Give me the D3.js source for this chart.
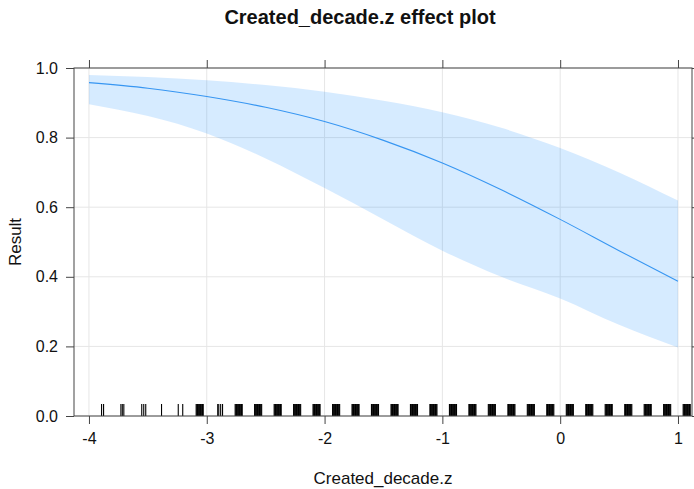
<!DOCTYPE html>
<html>
<head>
<meta charset="utf-8">
<script src="https://cdn.jsdelivr.net/npm/d3@7"></script>
<style>
  body { margin: 0; background: #fff; }
  text { font-family: "Liberation Sans", Arial, sans-serif; fill: #111; }
</style>
</head>
<body>
<script>
// fitted effect (probability) and 95% band
const fitX     = [-4, -3.5, -3, -2.5, -2, -1.5, -1, -0.5, 0, 0.5, 1];
const fitY     = [0.958, 0.942, 0.918, 0.887, 0.846, 0.792, 0.727, 0.650, 0.565, 0.475, 0.387];
const bandUp   = [0.980, 0.974, 0.965, 0.951, 0.932, 0.906, 0.873, 0.828, 0.770, 0.700, 0.619];
const bandLow  = [0.896, 0.862, 0.812, 0.740, 0.655, 0.565, 0.475, 0.400, 0.338, 0.262, 0.197];

// rug: decade positions (z) and the jittered offsets seen at each one
const decadeZ = [-3.886, -3.721, -3.556, -3.390, -3.225, -3.060, -2.894, -2.729, -2.564, -2.398,
                 -2.233, -2.068, -1.902, -1.737, -1.572, -1.406, -1.241, -1.076, -0.910, -0.745,
                 -0.580, -0.414, -0.249, -0.084, 0.082, 0.247, 0.412, 0.578, 0.743, 0.908, 1.074];
const denseJitter = [-0.030, -0.024, -0.018, -0.012, -0.006, 0, 0.006, 0.012, 0.018, 0.024, 0.030];
const sparseJitter = [
  [-0.007, 0.010],
  [-0.008, 0.004, 0.017],
  [0.004, 0.021, 0.038],
  [0.006],
  [-0.017, 0.021],
  null,
  [-0.013, -0.004, 0.012, 0.028]
];

const xTicks = [-4, -3, -2, -1, 0, 1];
const yTicks = [0, 0.2, 0.4, 0.6, 0.8, 1.0];

const title = "Created_decade.z effect plot";
const xLabel = "Created_decade.z";
const yLabel = "Result";

const W = 694, H = 489;
const panel = {left: 74, right: 692, top: 68, bottom: 416};

const svg = d3.select("body").append("svg")
    .attr("width", W)
    .attr("height", H);

const x = d3.scaleLinear().domain([-4.127, 1.119]).range([panel.left, panel.right]);
const y = d3.scaleLinear().domain([0, 1]).range([panel.bottom, panel.top]);

// grid
svg.append("g").selectAll("line.gx")
    .data(xTicks).enter().append("line")
    .attr("x1", d => x(d)).attr("x2", d => x(d))
    .attr("y1", panel.top).attr("y2", panel.bottom)
    .style("stroke", "#e6e6e6").style("stroke-width", 1);
svg.append("g").selectAll("line.gy")
    .data(yTicks).enter().append("line")
    .attr("x1", panel.left).attr("x2", panel.right)
    .attr("y1", d => y(d)).attr("y2", d => y(d))
    .style("stroke", "#e6e6e6").style("stroke-width", 1);

const fit = fitX.map((d, i) => ({x: d, y: fitY[i], lo: bandLow[i], hi: bandUp[i]}));

// confidence band
let band = d3.area()
    .x(d => x(d.x))
    .y0(d => y(d.lo))
    .y1(d => y(d.hi))
    .curve(d3.curveMonotoneX);

svg.append("path")
    .attr("d", band(fit))
    .style("fill", "#0080ff")
    .style("fill-opacity", 0.16)
    .style("stroke", "none");

// fitted line
let valueline = d3.line()
    .x(d => x(d.x))
    .y(d => y(d.y))
    .curve(d3.curveMonotoneX);

svg.append("path")
    .attr("d", valueline(fit))
    .style("stroke", "#3796f2")
    .style("stroke-width", 1.1)
    .style("fill", "none");

// rug
let rug = [];
decadeZ.forEach((z, i) => {
    let offs = (i < sparseJitter.length && sparseJitter[i]) ? sparseJitter[i] : denseJitter;
    offs.forEach(o => rug.push(z + o));
});
const rugLen = 12;
svg.append("g").selectAll("line")
    .data(rug).enter().append("line")
    .attr("x1", d => x(d)).attr("x2", d => x(d))
    .attr("y1", y(0) - rugLen).attr("y2", y(0))
    .style("stroke", "#000")
    .style("stroke-width", 1.1);

// axes (ticks outside on all four sides)
const fmtY = d3.format(".1f");
const fmtX = d => String(d);   // plain hyphen, as in the original
const axB = svg.append("g")
    .attr("transform", "translate(0," + panel.bottom + ")")
    .call(d3.axisBottom(x).tickValues(xTicks).tickSize(8).tickPadding(9).tickFormat(fmtX));
const axT = svg.append("g")
    .attr("transform", "translate(0," + panel.top + ")")
    .call(d3.axisTop(x).tickValues(xTicks).tickSize(8).tickFormat(""));
const axL = svg.append("g")
    .attr("transform", "translate(" + panel.left + ",0)")
    .call(d3.axisLeft(y).tickValues(yTicks).tickSize(8).tickPadding(8).tickFormat(fmtY));
const axR = svg.append("g")
    .attr("transform", "translate(" + panel.right + ",0)")
    .call(d3.axisRight(y).tickValues(yTicks).tickSize(8).tickFormat(""));

[axB, axT, axL, axR].forEach(a => {
    a.select(".domain").remove();
    a.selectAll(".tick line").style("stroke", "#444");
    a.selectAll(".tick text")
        .style("font-family", "'Liberation Sans', Arial, sans-serif")
        .style("font-size", "16px")
        .style("fill", "#111");
});

// panel border
svg.append("rect")
    .attr("x", panel.left).attr("y", panel.top)
    .attr("width", panel.right - panel.left)
    .attr("height", panel.bottom - panel.top)
    .style("fill", "none")
    .style("stroke", "#444")
    .style("stroke-width", 1);

// titles
svg.append("text")
    .attr("x", 360).attr("y", 24)
    .attr("text-anchor", "middle")
    .style("font-size", "20px")
    .style("font-weight", "bold")
    .text(title);

svg.append("text")
    .attr("x", 383).attr("y", 484)
    .attr("text-anchor", "middle")
    .style("font-size", "17px")
    .text(xLabel);

svg.append("text")
    .attr("transform", "translate(21," + ((panel.top + panel.bottom) / 2) + ") rotate(-90)")
    .attr("text-anchor", "middle")
    .style("font-size", "17px")
    .text(yLabel);
</script>
</body>
</html>
